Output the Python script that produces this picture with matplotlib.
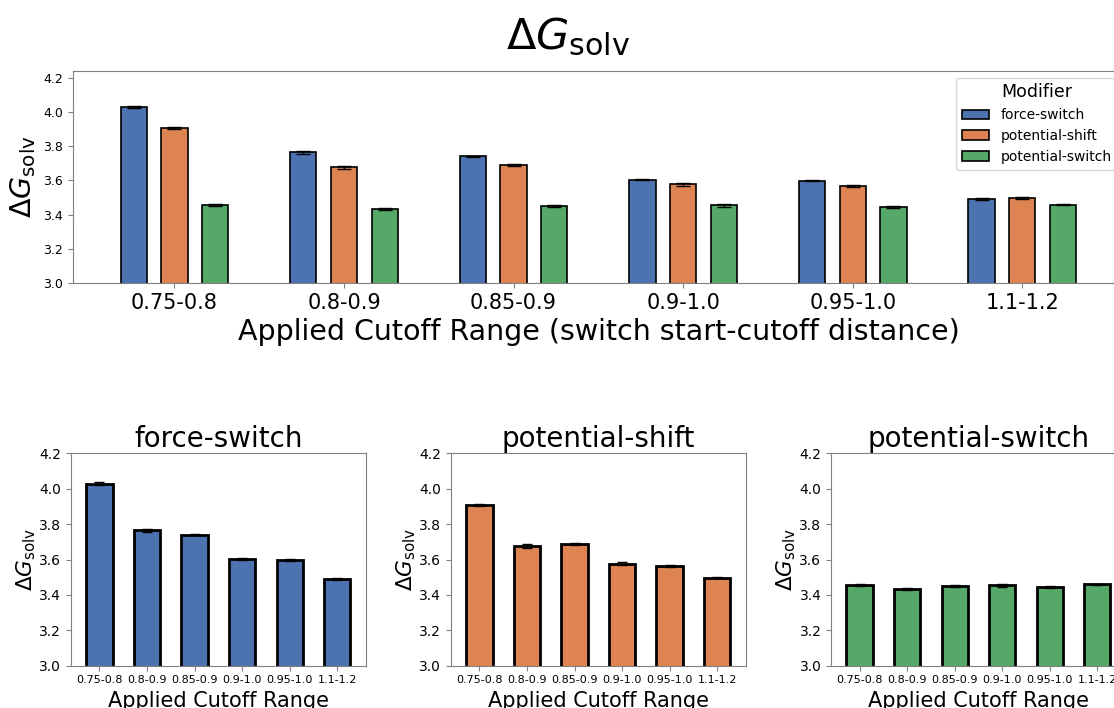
import numpy as np
import matplotlib
matplotlib.use("Agg")
import matplotlib.pyplot as plt

# Données
ranges = ["0.75-0.8", "0.8-0.9", "0.85-0.9", "0.9-1.0", "0.95-1.0", "1.1-1.2"]
modifiers = ["force-switch", "potential-shift", "potential-switch"]

force_switch = [4.028, 3.765, 3.741, 3.603, 3.599, 3.492]
force_switch_err = [0.008, 0.009, 0.004, 0.003, 0.005, 0.006]
potential_shift = [3.908, 3.677, 3.688, 3.577, 3.565, 3.498]
potential_shift_err = [0.005, 0.010, 0.006, 0.010, 0.006, 0.005]
potential_switch = [3.457, 3.434, 3.451, 3.454, 3.446, 3.459]
potential_switch_err = [0.006, 0.006, 0.006, 0.008, 0.007, 0.003]

colors = ["#4C72B0", "#DD8452", "#55A868"]
spine_color = "0.5"

values = [force_switch, potential_shift, potential_switch]
errors = [force_switch_err, potential_shift_err, potential_switch_err]

fig = plt.figure(figsize=(11.14, 7.08), dpi=100)
label_g = r"$\Delta G_{\mathrm{solv}}$"


def style_axes(ax):
    for s in ax.spines.values():
        s.set_color(spine_color)
    ax.tick_params(colors=spine_color, labelcolor="black")


# Graphique du haut : toutes les combinaisons
ax = fig.add_axes([0.0653, 0.600, 0.9437, 0.300])
x = np.arange(len(ranges))
offsets = [-0.24, 0.0, 0.24]
for i, mod in enumerate(modifiers):
    ax.bar(x + offsets[i], values[i], width=0.155, color=colors[i],
           edgecolor="black", linewidth=1.2, label=mod)
    ax.errorbar(x + offsets[i], values[i], yerr=errors[i], fmt="none",
                ecolor="black", elinewidth=1, capsize=5, capthick=1)
ax.set_xlim(-0.6, 5.6)
ax.set_ylim(3.0, 4.24)
ax.set_xticks(x)
ax.set_xticklabels(ranges, fontsize=15)
ax.set_yticks(np.arange(3.0, 4.21, 0.2))
ax.tick_params(axis="y", labelsize=9)
ax.set_ylabel(label_g, fontsize=20.5)
ax.set_xlabel("Applied Cutoff Range (switch start-cutoff distance)", fontsize=20.5)
style_axes(ax)
leg = ax.legend(title="Modifier", fontsize=10, title_fontsize=12.5, loc="upper right")

fig.text(0.51, 0.978, label_g, fontsize=31, ha="center", va="top")

# Graphiques du bas : un par modificateur
lefts = [0.0637, 0.4048, 0.746]
for i, mod in enumerate(modifiers):
    a = fig.add_axes([lefts[i], 0.0597, 0.2645, 0.300])
    a.bar(x, values[i], width=0.55, color=colors[i], edgecolor="black", linewidth=2)
    a.errorbar(x, values[i], yerr=errors[i], fmt="none", ecolor="black",
               elinewidth=1, capsize=3.5, capthick=1)
    a.set_xlim(-0.6, 5.6)
    a.set_ylim(3.0, 4.2)
    a.set_xticks(x)
    a.set_xticklabels(ranges, fontsize=8)
    a.set_yticks(np.arange(3.0, 4.21, 0.2))
    a.tick_params(axis="y", labelsize=10)
    a.set_title(mod, fontsize=20, pad=4)
    a.set_ylabel(label_g, fontsize=15.5, labelpad=1)
    a.set_xlabel("Applied Cutoff Range", fontsize=15)
    style_axes(a)

fig.savefig("out.png", dpi=100)
